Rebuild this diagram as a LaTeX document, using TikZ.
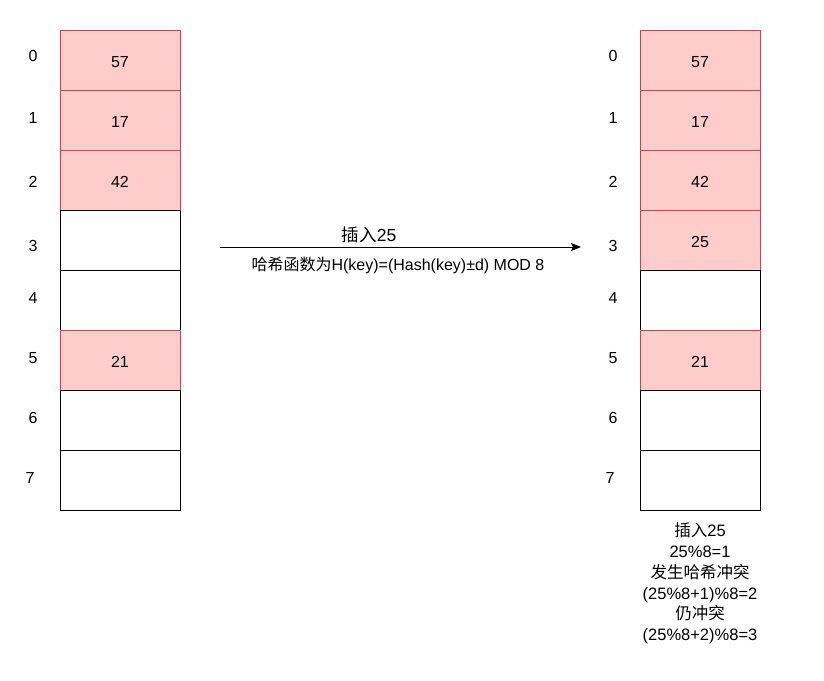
\documentclass[tikz,border=0pt]{standalone}
\usepackage{fontspec}
\setmainfont{Liberation Sans}
\newfontfamily\cjk{Noto Sans CJK SC}
\usetikzlibrary{arrows.meta}
\definecolor{slotfill}{HTML}{FFCCCC}
\definecolor{slotline}{HTML}{CC4444}
\begin{document}
\begin{tikzpicture}[x=1pt,y=-1pt, line width=1pt,
  slot/.style={draw, minimum width=120pt, minimum height=60pt, inner sep=0pt,
    text height=15.5pt, text depth=0pt, font=\fontsize{16}{19}\selectfont},
  usedslot/.style={slot, draw=slotline, fill=slotfill},
  idx/.style={font=\fontsize{16}{19}\selectfont},
  note/.style={align=center, font=\fontsize{16.5}{20.8}\selectfont}]
\useasboundingbox (0,0) rectangle (824,680);

% table before insertion
\node[usedslot] (l0) at (120,60) {57};
\node[usedslot] (l1) at (120,120) {17};
\node[usedslot] (l2) at (120,180) {42};
\node[slot] (l3) at (120,240) {};
\node[slot] (l4) at (120,300) {};
\node[usedslot] (l5) at (120,360) {21};
\node[slot] (l6) at (120,420) {};
\node[slot] (l7) at (120,480) {};

\node[idx] (li0) at (33,56) {0};
\node[idx] (li1) at (33,118) {1};
\node[idx] (li2) at (33,182) {2};
\node[idx] (li3) at (33,246) {3};
\node[idx] (li4) at (33,298) {4};
\node[idx] (li5) at (33,358) {5};
\node[idx] (li6) at (33,418) {6};
\node[idx] (li7) at (30,478) {7};

% table after insertion
\node[usedslot] (r0) at (700,60) {57};
\node[usedslot] (r1) at (700,120) {17};
\node[usedslot] (r2) at (700,180) {42};
\node[usedslot] (r3) at (700,240) {25};
\node[slot] (r4) at (700,300) {};
\node[usedslot] (r5) at (700,360) {21};
\node[slot] (r6) at (700,420) {};
\node[slot] (r7) at (700,480) {};

\node[idx] (ri0) at (613,56) {0};
\node[idx] (ri1) at (613,118) {1};
\node[idx] (ri2) at (613,182) {2};
\node[idx] (ri3) at (613,246) {3};
\node[idx] (ri4) at (613,298) {4};
\node[idx] (ri5) at (613,358) {5};
\node[idx] (ri6) at (613,418) {6};
\node[idx] (ri7) at (610,478) {7};

% insertion arrow
\coordinate (s) at (220,247);
\coordinate (e) at (581,247);
\draw[-{Stealth[length=10pt,width=8pt,inset=2pt]}] (s) -- (e);
\node[font=\fontsize{17.5}{20}\selectfont] (ins) at (369,235) {{\cjk 插入}25};
\node[font=\fontsize{16}{19}\selectfont] (fn) at (398,265) {{\cjk 哈希函数为}H(key)=(Hash(key)±d) MOD 8};

\node[note, anchor=north] (steps) at (700,519) {{\cjk 插入}25\\25\%8=1\\{\cjk 发生哈希冲突}\\(25\%8+1)\%8=2\\{\cjk 仍冲突}\\(25\%8+2)\%8=3};
\end{tikzpicture}
\end{document}
